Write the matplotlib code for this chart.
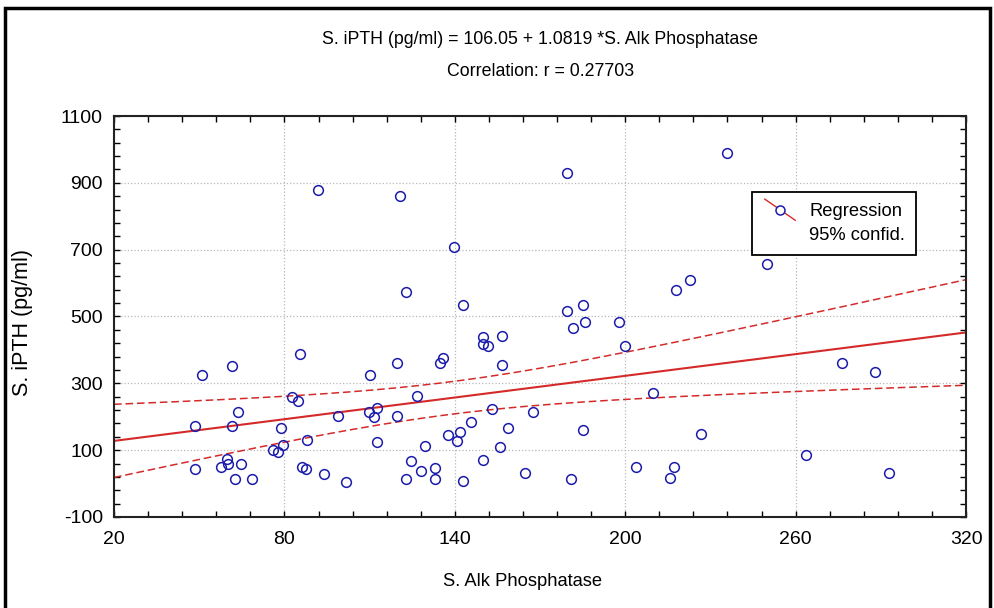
import numpy as np
import matplotlib
matplotlib.use("Agg")
import matplotlib.pyplot as plt
from matplotlib.lines import Line2D
from matplotlib.legend_handler import HandlerBase
from matplotlib.ticker import FixedLocator, MultipleLocator
from matplotlib.patches import Rectangle

# data (S. Alk Phosphatase vs S. iPTH)
alk = [91.7, 120.6, 179.6, 139.8, 122.7, 142.8, 179.6, 185.0, 181.7, 185.9,
       197.7, 199.8, 110.0, 119.8, 135.7, 134.8, 149.8, 149.8, 151.8, 156.7,
       156.7, 126.8, 112.7, 111.5, 109.7, 119.8, 112.7, 145.7, 153.0, 167.6,
       158.8, 137.7, 141.8, 140.7, 129.6, 155.9, 185.0, 209.9, 149.8, 124.7,
       128.0, 132.9, 132.9, 122.7, 142.8, 164.8, 180.8, 203.8, 215.8, 50.9,
       61.4, 85.5, 48.6, 61.4, 63.5, 82.7, 84.9, 78.7, 98.7, 75.8,
       77.9, 79.6, 87.8, 48.6, 57.8, 59.7, 60.0, 64.6, 62.6, 68.7,
       86.3, 87.6, 93.9, 101.6, 236.0, 249.8, 217.8, 222.8, 226.8, 217.0,
       263.7, 276.2, 288.1, 293.0]
ipth = [879, 862, 929, 708, 574, 534, 516, 534, 466, 484,
        484, 413, 324, 362, 375, 362, 438, 418, 413, 441,
        356, 262, 227, 200, 213, 201, 125, 183, 223, 214,
        166, 145, 153, 128, 113, 108, 161, 272, 72, 67,
        39, 46, 13, 13, 8, 33, 13, 50, 18, 324,
        352, 387, 171, 173, 213, 259, 248, 165, 201, 101,
        95, 116, 130, 45, 50, 75, 58, 60, 13, 13,
        50, 43, 28, 5, 990, 658, 578, 608, 147, 50,
        86, 360, 334, 31]

x_ticks = [20, 80, 140, 200, 260, 320]
y_ticks = [-100, 100, 300, 500, 700, 900, 1100]

intercept = 106.05
slope = 1.0819
r_value = 0.27703
t_crit = 1.9893  # 95%, df = n - 2

plt.rcParams["font.family"] = ["Liberation Sans", "DejaVu Sans"]
plt.rcParams["axes.unicode_minus"] = False

red = "#d42a2a"
blue = "#1c1caa"

fig = plt.figure(figsize=(9.95, 6.08), dpi=100)
ax = fig.add_axes([0.1146, 0.1497, 0.8563, 0.6595])

x = np.array(alk)
y = np.array(ipth)
n = len(x)

ax.plot(x, y, "o", mfc="none", mec=blue, ms=7, mew=1.1, zorder=3)

xs = np.linspace(x_ticks[0], x_ticks[-1], 200)
fit = intercept + slope * xs
resid = y - (intercept + slope * x)
s = np.sqrt(np.sum(resid ** 2) / (n - 2))
sxx = np.sum((x - x.mean()) ** 2)
half = t_crit * s * np.sqrt(1 / n + (xs - x.mean()) ** 2 / sxx)

ax.plot(xs, fit, color=red, lw=1.5, zorder=2)
ax.plot(xs, fit + half, color=red, lw=1.1, ls=(0, (5, 2.5)), zorder=2)
ax.plot(xs, fit - half, color=red, lw=1.1, ls=(0, (5, 2.5)), zorder=2)

ax.set_xlim(x_ticks[0], x_ticks[-1])
ax.set_ylim(y_ticks[0], y_ticks[-1])
ax.xaxis.set_major_locator(FixedLocator(x_ticks))
ax.xaxis.set_minor_locator(MultipleLocator(12, offset=x_ticks[0]))
ax.yaxis.set_major_locator(FixedLocator(y_ticks))
ax.yaxis.set_minor_locator(MultipleLocator(40, offset=y_ticks[0]))
ax.tick_params(which="both", direction="in", top=True, right=True,
               length=4, width=1, color="black", labelsize=14)
ax.tick_params(axis="x", pad=10)
ax.tick_params(axis="y", pad=8)
ax.grid(True, which="major", color="#b8b8b8", ls=":", lw=0.9)
for sp in ax.spines.values():
    sp.set_linewidth(1.5)
    sp.set_color("#222222")

fig.text(0.543, 1 - 40 / 608, "S. iPTH (pg/ml) = %.2f + %.4f *S. Alk Phosphatase" % (intercept, slope),
         ha="center", va="center", fontsize=12.8)
fig.text(0.543, 1 - 72 / 608, "Correlation: r = %.5f" % r_value,
         ha="center", va="center", fontsize=12.8)
fig.text(0.525, 1 - 582 / 608, "S. Alk Phosphatase", ha="center", va="center", fontsize=13.2)
fig.text(0.023, 1 - 322 / 608, "S. iPTH (pg/ml)", ha="center", va="center",
         rotation=90, fontsize=15.5)


class DiagHandler(HandlerBase):
    def create_artists(self, legend, orig_handle, xdescent, ydescent,
                       width, height, fontsize, trans):
        up = 0.62 * fontsize * 1.3
        x0, x1 = -xdescent + 0.05 * width, -xdescent + width
        y0, y1 = -ydescent + up - 0.4 * height, -ydescent + height + up + 0.25 * height
        ln = Line2D([x0, x1], [y1, y0], color=red, lw=1.0, transform=trans)
        mk = Line2D([(x0 + x1) / 2], [(y0 + y1) / 2], marker="o", mfc="white",
                    mec=blue, ms=6.5, mew=1.1, ls="none", transform=trans)
        return [ln, mk]


handle = Line2D([], [], color=red)
leg = ax.legend([handle], ["Regression\n95% confid."], handler_map={Line2D: DiagHandler()},
                loc="upper left", bbox_to_anchor=(0.749, 0.81), borderaxespad=0,
                fontsize=13.2, handlelength=1.75, handletextpad=0.75, borderpad=0.6,
                fancybox=False, framealpha=1, edgecolor="black")
leg.get_frame().set_linewidth(1.3)
for t in leg.get_texts():
    t.set_linespacing(1.5)

fig.patches.append(Rectangle((0.005, -0.2), 0.99, 0.2 + 1 - 8 / 608, transform=fig.transFigure,
                             fill=False, edgecolor="black", lw=2.5))

fig.savefig("out.png", dpi=100)
